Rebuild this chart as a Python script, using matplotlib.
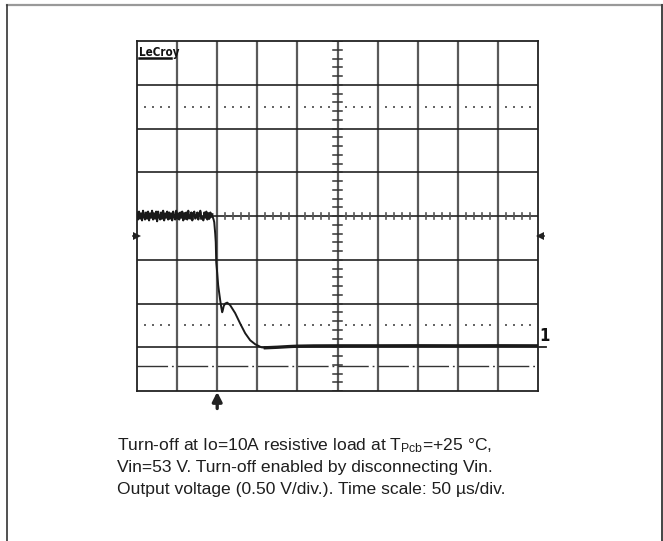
import numpy as np
import matplotlib
matplotlib.use("Agg")
import matplotlib.pyplot as plt

plt.rcParams['lines.scale_dashes'] = False
plt.rcParams['mathtext.fontset'] = 'custom'
plt.rcParams['mathtext.rm'] = 'Liberation Sans'
plt.rcParams['mathtext.it'] = 'Liberation Sans'

# ---------------- data (time in us, voltage in V) ----------------
t_pre = np.linspace(-100, -6, 76)
v_pre = [1.54, 1.46, 1.55, 1.47, 1.53, 1.45, 1.56, 1.49, 1.46, 1.54, 1.47, 1.55, 1.45, 1.53, 1.48, 1.56,
         1.46, 1.53, 1.47, 1.55, 1.44, 1.55, 1.49, 1.46, 1.54, 1.47, 1.56, 1.45, 1.53, 1.48, 1.55, 1.46,
         1.54, 1.47, 1.53, 1.45, 1.55, 1.49, 1.46, 1.56, 1.47, 1.53, 1.46, 1.54, 1.48, 1.55, 1.45, 1.53,
         1.47, 1.54, 1.46, 1.56, 1.48, 1.47, 1.54, 1.45, 1.53, 1.55, 1.47, 1.49, 1.54, 1.46, 1.53, 1.56,
         1.47, 1.49, 1.45, 1.54, 1.48, 1.55, 1.46, 1.53, 1.47, 1.54, 1.49, 1.52]

t_edge = [-6, -4.5, -3.7, -2.5, -1.8, -1.2, 0.0, 1.2, 2.5, 3.7, 5.0, 6.2, 6.9, 8.1, 10.0, 12.5,
          16.2, 22.4, 28.7, 34.9, 41.1, 47.4, 54.9, 60.0]
v_edge = [1.50, 1.46, 1.43, 1.30, 1.20, 0.97, 0.85, 0.71, 0.62, 0.54, 0.46, 0.40, 0.42, 0.47, 0.50, 0.51,
          0.48, 0.39, 0.27, 0.16, 0.08, 0.034, 0.0, -0.006]

t_tail = [60, 75, 90, 100, 120, 150, 200, 250, 300, 350, 400]
v_tail = [-0.006, 0.0, 0.008, 0.012, 0.015, 0.016, 0.016, 0.017, 0.016, 0.017, 0.016]

trigger_level = 1.27      # V (side markers)
ref_level = -0.21         # V (dash-dot line)
ground_level = 0.0        # V (channel 1 marker)
caption = ["Turn-off at Io=10A resistive load at T$_{\\mathregular{Pcb}}$=+25 °C,",
           "Vin=53 V. Turn-off enabled by disconnecting Vin.",
           "Output voltage (0.50 V/div.). Time scale: 50 µs/div."]

W, H = 663, 541
fig = plt.figure(figsize=(W / 100, H / 100), dpi=100)

# background frame (pixel coordinates)
bg = fig.add_axes([0, 0, 1, 1])
bg.set_xlim(0, W)
bg.set_ylim(H, 0)
bg.axis('off')
bg.plot([7, 662], [5, 5], color='#999999', lw=1.6)
bg.plot([7, 7], [5, H], color='#333333', lw=1.2)
bg.plot([661.5, 661.5], [5, H], color='#444444', lw=1.4)

# caption
x0 = 117
for i, line in enumerate(caption):
    bg.text(x0, 450.5 + i * 21.6, line, fontsize=12.6, family='Liberation Sans',
            color='#1e1e1e', va='baseline', ha='left')

# scope axes
L, R, T, B = 137, 538, 41, 391
ax = fig.add_axes([L / W, (H - B) / H, (R - L) / W, (B - T) / H])
ax.set_xlim(-100, 400)
ax.set_ylim(-0.5, 3.5)
ax.set_xticks([])
ax.set_yticks([])
for s in ax.spines.values():
    s.set_color('#222222')
    s.set_linewidth(1.3)

xdiv = np.arange(-100, 401, 50)
ydiv = np.arange(-0.5, 3.51, 0.5)
for x in xdiv[1:-1]:
    ax.axvline(x, color='#5a5a5a', lw=1.6, zorder=1)
for y in ydiv[1:-1]:
    ax.axhline(y, color='#222222', lw=1.2, zorder=1)

# center axes minor ticks
tc, vc = 150, 1.5
for x in np.arange(-100, 401, 10):
    if x % 50:
        ax.plot([x, x], [vc - 0.038, vc + 0.038], color='#555555', lw=1.2, zorder=2)
for y in np.arange(-0.5, 3.51, 0.1):
    ax.plot([tc - 5.6, tc + 5.6], [y, y], color='#333333', lw=1.1, zorder=2)

# dotted marker rows
for yd in (vc + 1.25, vc - 1.25):
    xs = []
    for x in xdiv[:-1]:
        xs += [x + 10, x + 20, x + 30, x + 40]
    ax.plot(xs, [yd] * len(xs), ls='none', marker='s', ms=1.5, color='#666666', mew=0, zorder=2)

# dash-dot reference line
ax.plot([-100, 400], [ref_level, ref_level], color='#333333', lw=1.0,
        dashes=(22, 2.8, 1.3, 2.8), zorder=2)

# trace
ax.plot(t_pre, v_pre, color='#1a1a1a', lw=1.5, zorder=5)
ax.plot(t_edge, v_edge, color='#1a1a1a', lw=1.4, zorder=5)
ax.plot(t_tail, v_tail, color='#1a1a1a', lw=2.4, zorder=5)

# trigger level markers
ax.plot([-100], [trigger_level], marker='>', ms=5.5, color='#222222', clip_on=False,
        ls='none', markeredgewidth=0, zorder=6)
ax.plot([402], [trigger_level], marker='<', ms=5.5, color='#222222', clip_on=False,
        ls='none', markeredgewidth=0, zorder=6)
ax.plot([-105.5, -100], [trigger_level, trigger_level], color='#222222', lw=1.2, clip_on=False)
ax.plot([400, 407], [trigger_level, trigger_level], color='#222222', lw=1.2, clip_on=False)

# channel marker "1"
ax.plot([400, 410], [ground_level, ground_level], color='#222222', lw=1.3, clip_on=False)
ax.text(402, ground_level + 0.03, '1', fontsize=12, fontweight='bold', family='DejaVu Sans',
        fontstretch='condensed', color='#111111', va='bottom', ha='left', clip_on=False)

# trigger position arrow
ax.annotate('', xy=(0, -0.51), xytext=(0, -0.70),
            arrowprops=dict(arrowstyle='-|>,head_width=0.28,head_length=0.55', color='#222222',
                            lw=2.4, shrinkA=0, shrinkB=0), annotation_clip=False)

# LeCroy label
ax.text(-97.5, 3.44, 'LeCroy', fontsize=8.3, fontweight='bold', fontstretch='condensed',
        family=['DejaVu Sans'], color='#111111', va='top', ha='left')
ax.plot([-97.5, -58], [3.31, 3.31], color='#111111', lw=1.8)

fig.savefig('out.png', dpi=100)
